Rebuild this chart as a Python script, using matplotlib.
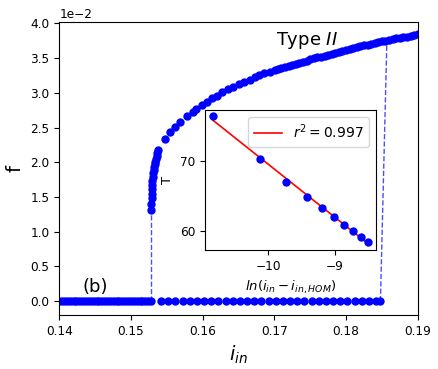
# -*- coding:utf-8 -*-
# bifurcation diagram f vs i_in, with inset log fit of the period
import numpy as np
import matplotlib
matplotlib.use('Agg')
import matplotlib.pyplot as plt

# lower branch, f = 0 (dense sweep, then coarse sweep)
lo_x = [0.1400, 0.1404, 0.1408, 0.1412, 0.1416, 0.1420, 0.1424, 0.1428,
        0.1432, 0.1436, 0.1440, 0.1444, 0.1448, 0.1452, 0.1456, 0.1460,
        0.1464, 0.1468, 0.1472, 0.1476, 0.1480, 0.1484, 0.1488, 0.1492,
        0.1496, 0.1500, 0.1504, 0.1508, 0.1512, 0.1516, 0.1520, 0.1524,
        0.15285,
        0.1542, 0.1552, 0.1562, 0.1572, 0.1582, 0.1592, 0.1602, 0.1612,
        0.1622, 0.1632, 0.1642, 0.1652, 0.1662, 0.1672, 0.1682, 0.1692,
        0.1702, 0.1712, 0.1722, 0.1732, 0.1742, 0.1752, 0.1762, 0.1772,
        0.1782, 0.1792, 0.1802, 0.1812, 0.1822, 0.1832, 0.1842, 0.1848]
lo_f = [0.0] * len(lo_x)

# upper branch (oscillating state), f in units of 1e-2
up_x = [0.15285, 0.15286, 0.15288, 0.1529, 0.15293, 0.15296, 0.1530, 0.15305,
        0.1531, 0.15316, 0.15323, 0.1533, 0.15338, 0.15347, 0.15357, 0.15368,
        0.1538,
        0.1548, 0.1554, 0.1561, 0.1569, 0.1578, 0.1586, 0.1591, 0.1599,
        0.1606, 0.1613, 0.1620, 0.1627, 0.1636, 0.1643, 0.1651, 0.1657,
        0.1666, 0.1673, 0.1679, 0.1686, 0.1694, 0.1701,
        0.1705, 0.1710, 0.1715, 0.1720, 0.1725, 0.1730, 0.1735, 0.1740,
        0.1745, 0.1750, 0.1755, 0.1760, 0.1765, 0.1770, 0.1775, 0.1780,
        0.1785, 0.1790, 0.1795, 0.1800, 0.1805, 0.1810, 0.1815, 0.1820,
        0.1825, 0.1830, 0.1835, 0.1840, 0.1845, 0.1850, 0.1855, 0.1860,
        0.1865, 0.1870, 0.1875, 0.1880, 0.1885, 0.1890, 0.1895, 0.1900]
up_f = [1.31, 1.40, 1.48, 1.55, 1.61, 1.67, 1.73, 1.79,
        1.84, 1.89, 1.93, 1.97, 2.01, 2.05, 2.09, 2.13,
        2.17,
        2.33, 2.43, 2.51, 2.58, 2.66, 2.73, 2.77, 2.82,
        2.87, 2.92, 2.96, 3.01, 3.05, 3.09, 3.13, 3.16,
        3.19, 3.23, 3.25, 3.28, 3.30, 3.33,
        3.345, 3.36, 3.375, 3.39, 3.405, 3.42, 3.435, 3.45,
        3.465, 3.48, 3.495, 3.51, 3.52, 3.535, 3.55, 3.565,
        3.58, 3.59, 3.605, 3.62, 3.635, 3.645, 3.66, 3.67,
        3.685, 3.695, 3.71, 3.72, 3.73, 3.74, 3.75, 3.765,
        3.775, 3.785, 3.795, 3.80, 3.81, 3.82, 3.83, 3.84]

# jumps between the branches
jump1_x = [0.15285, 0.15285]
jump1_f = [0.0, 1.31]
jump2_x = [0.1848, 0.1857]
jump2_f = [0.0, 3.76]

# inset: period T against ln(i_in - i_in,HOM)
ln_di = [-10.83, -10.126, -9.73, -9.42, -9.196, -9.016, -8.866, -8.73, -8.61, -8.506]
T = [76.3, 70.2, 67.06, 64.9, 63.3, 62.1, 60.9, 60.1, 59.24, 58.5]

fig = plt.figure(figsize=(4.39, 3.69), dpi=100)
ax = fig.add_axes([0.135, 0.1463, 0.8165, 0.7941])

sc = 1e-2
ax.plot(jump1_x, np.array(jump1_f) * sc, '--', color='b', alpha=0.7, lw=1)
ax.plot(jump2_x, np.array(jump2_f) * sc, '--', color='b', alpha=0.7, lw=1)
ax.plot(lo_x, lo_f, 'o', color='b', ms=5)
ax.plot(up_x, np.array(up_f) * sc, 'o', color='b', ms=5)

ax.set_xlim(0.14, 0.19)
ax.set_ylim(-0.0020, 0.0402)
ax.set_xticks([0.14, 0.15, 0.16, 0.17, 0.18, 0.19])
ax.ticklabel_format(style='sci', axis='y', scilimits=(0, 0))
ax.tick_params(labelsize=8.7)
ax.yaxis.get_offset_text().set_fontsize(8.7)
ax.set_xlabel('$i_{in}$', fontsize=14)
ax.set_ylabel('f', fontsize=14)

ax.text(0.1433, 0.0013, '(b)', fontsize=13)
ax.text(0.1702, 0.0369, 'Type $II$', fontsize=13)

# inset
axin = fig.add_axes([0.467, 0.3225, 0.389, 0.3794])
p = np.polyfit(ln_di, T, 1)
xx = np.array([min(ln_di), max(ln_di)])
axin.plot(xx, np.polyval(p, xx), 'r-', lw=1.2, label='$r^2 = 0.997$')
axin.plot(ln_di, T, 'o', color='b', ms=5)
axin.set_xticks([-10, -9])
axin.set_yticks([60, 70])
axin.tick_params(labelsize=8.7)
axin.set_xlabel('$ln(i_{in}-i_{in,HOM})$', fontsize=9.5)
axin.set_ylabel('T', fontsize=9.5)
axin.legend(loc='upper right', fontsize=10)

plt.savefig('out.png', dpi=100)
